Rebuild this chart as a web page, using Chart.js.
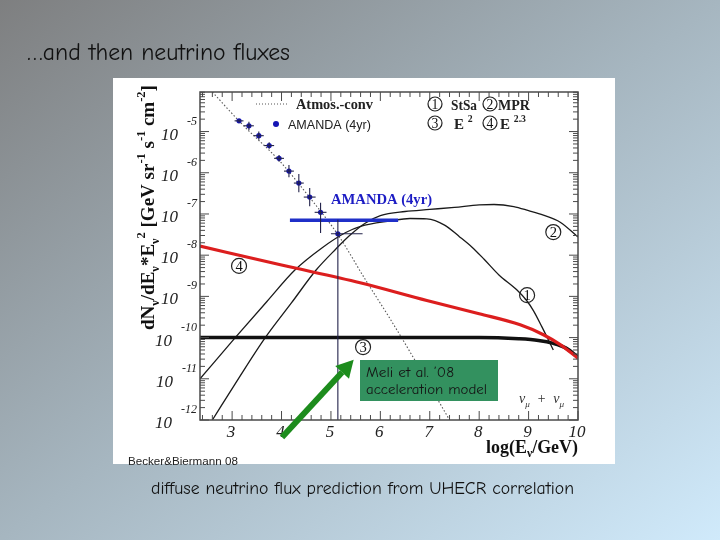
<!DOCTYPE html>
<html>
<head>
<meta charset="utf-8">
<script src="https://cdn.jsdelivr.net/npm/chart.js@4.4.1/dist/chart.umd.min.js"></script>
<style>
  html, body { margin: 0; padding: 0; }
  body {
    width: 720px; height: 540px; overflow: hidden;
    background: linear-gradient(to bottom right, #7e7f80 0%, #a6b6c0 50%, #d0eafb 100%);
  }
  canvas { display: block; }
</style>
</head>
<body>
<canvas id="chart" width="720" height="540"></canvas>
<script>
// axis ticks (log10 units)
const xTicks = [3, 4, 5, 6, 7, 8, 9, 10]
const yTicks = [-12, -11, -10, -9, -8, -7, -6, -5]

// AMANDA unfolded atmospheric spectrum (4yr)
const amandaX = [3.14, 3.34, 3.54, 3.75, 3.95, 4.15, 4.35, 4.57, 4.79, 5.14]
const amandaY = [-4.74, -4.86, -5.10, -5.34, -5.65, -5.96, -6.25, -6.59, -6.96, -7.48]
const amandaYUp = [0.04, 0.1, 0.1, 0.08, 0.08, 0.15, 0.22, 0.22, 0.23, 0.34]
const amandaYDown = [0.04, 0.1, 0.1, 0.08, 0.08, 0.15, 0.22, 0.22, 0.5, 5]
const amandaXLo = [0.09, 0.1, 0.1, 0.1, 0.1, 0.1, 0.1, 0.12, 0.12, 0.14]
const amandaXHi = [0.09, 0.1, 0.1, 0.1, 0.1, 0.1, 0.1, 0.12, 0.12, 0.5]

// AMANDA (4yr) diffuse limit
const limitX = [4.17, 6.36]
const limitY = [-7.15, -7.15]

// conventional atmospheric flux
const atmosX = [2.6, 3.2, 3.95, 4.57, 5.14, 5.7, 6.2, 6.7, 7.4]
const atmosY = [-4.04, -4.82, -5.7, -6.6, -7.5, -8.6, -9.55, -10.55, -12.0]

// (1) StSa
const stsaX = [2.35, 3.05, 3.7, 4.27, 4.81, 5.3, 5.6, 6.2, 6.6, 6.94, 7.3, 7.6, 7.85, 8.1, 8.4, 8.76, 8.96, 9.1, 9.27, 9.5]
const stsaY = [-11.0, -10.02, -9.13, -8.36, -7.83, -7.45, -7.3, -7.17, -7.11, -7.12, -7.27, -7.55, -7.8, -8.1, -8.48, -8.84, -9.1, -9.35, -9.74, -10.3]

// (2) MPR
const mprX = [2.6, 3.1, 3.66, 4.2, 4.7, 5.1, 5.4, 5.7, 6.0, 6.5, 7.0, 7.5, 8.0, 8.3, 8.7, 9.0, 9.3, 9.64, 10.0]
const mprY = [-12.0, -11.05, -10.02, -9.16, -8.36, -7.85, -7.5, -7.22, -7.04, -6.94, -6.89, -6.84, -6.78, -6.77, -6.82, -6.92, -7.03, -7.2, -7.56]

// (3) E^-2
const e2X = [2.35, 8.0, 8.8, 9.2, 9.5, 9.75, 10.0]
const e2Y = [-10.0, -10.0, -10.03, -10.07, -10.14, -10.25, -10.47]

// (4) E^-2.3
const e23X = [2.35, 4.0, 5.59, 6.94, 8.0, 8.83, 9.3, 9.64, 10.0]
const e23Y = [-7.78, -8.24, -8.67, -9.1, -9.42, -9.69, -9.93, -10.17, -10.5]

const SERIF = '"Liberation Serif", "DejaVu Serif", serif'
const SANS = '"Liberation Sans", Arial, sans-serif'
const COMIC = '"Comic Sans MS", "Comic Neue", "DejaVu Sans", sans-serif'
const AXIS = '#4a4a4a'

const pts = (xs, ys) => xs.map((x, i) => ({ x, y: ys[i] }))

function fontOf (f, size) {
  return (f.style || '') + ' ' + (f.weight || '') + ' ' + size.toFixed(2) + 'px ' + f.family
}

function norm (segs) {
  return segs.map(s => typeof s === 'string' ? { t: s } : s)
}

function richWidth (ctx, segs, f) {
  let w = 0
  norm(segs).forEach(s => {
    ctx.font = fontOf(f, s.sub || s.sup ? f.size * 0.65 : f.size)
    w += ctx.measureText(s.t).width
  })
  return w
}

// text with sub/superscripts; f.width resizes the font to a target width,
// f.squeeze keeps the font size and compresses horizontally instead
function drawRich (ctx, x, y, segs, f) {
  if (f.width && !f.squeeze) f = Object.assign({}, f, { size: f.size * f.width / richWidth(ctx, segs, f) })
  const w = richWidth(ctx, segs, f)
  const sx = f.width && f.squeeze ? f.width / w : 1
  ctx.save()
  ctx.translate(x, y)
  ctx.scale(sx, 1)
  let cx = f.align === 'right' ? -w : f.align === 'center' ? -w / 2 : 0
  ctx.fillStyle = f.color || '#000'
  ctx.textAlign = 'left'
  ctx.textBaseline = 'alphabetic'
  norm(segs).forEach(s => {
    const size = s.sub || s.sup ? f.size * 0.65 : f.size
    ctx.font = fontOf(f, size)
    const dy = s.sub ? f.size * 0.25 : s.sup ? -f.size * 0.45 : 0
    ctx.fillText(s.t, cx, dy)
    cx += ctx.measureText(s.t).width
  })
  ctx.restore()
}

function circled (ctx, x, y, r, digit) {
  ctx.beginPath()
  ctx.arc(x, y, r, 0, Math.PI * 2)
  ctx.strokeStyle = '#222'
  ctx.lineWidth = 1.2
  ctx.stroke()
  ctx.fillStyle = '#111'
  ctx.font = (r * 1.95).toFixed(1) + 'px ' + SERIF
  ctx.textAlign = 'center'
  ctx.textBaseline = 'middle'
  ctx.fillText(digit, x, y + 1)
}

function seg (ctx, x0, y0, x1, y1) {
  ctx.beginPath()
  ctx.moveTo(x0, y0)
  ctx.lineTo(x1, y1)
  ctx.stroke()
}

function arrow (ctx, x0, y0, x1, y1, width, head, color) {
  const a = Math.atan2(y1 - y0, x1 - x0)
  const bx = x1 - head * Math.cos(a)
  const by = y1 - head * Math.sin(a)
  const hw = head * 0.55
  ctx.strokeStyle = color
  ctx.fillStyle = color
  ctx.lineWidth = width
  ctx.lineCap = 'butt'
  seg(ctx, x0, y0, bx, by)
  ctx.beginPath()
  ctx.moveTo(x1, y1)
  ctx.lineTo(bx + hw * Math.sin(a), by - hw * Math.cos(a))
  ctx.lineTo(bx - hw * Math.sin(a), by + hw * Math.cos(a))
  ctx.closePath()
  ctx.fill()
}

const panel = {
  id: 'panel',
  beforeDraw (chart) {
    const ctx = chart.ctx
    ctx.save()
    ctx.fillStyle = '#ffffff'
    ctx.fillRect(113, 78, 502, 386)
    ctx.restore()
  }
}

const errorBars = {
  id: 'errorBars',
  afterDatasetsDraw (chart) {
    const { ctx, chartArea: a } = chart
    const xs = chart.scales.x
    const ys = chart.scales.y
    ctx.save()
    ctx.beginPath()
    ctx.rect(a.left, a.top, a.right - a.left, a.bottom - a.top)
    ctx.clip()
    ctx.strokeStyle = '#22224a'
    ctx.lineWidth = 1.1
    amandaX.forEach((x, i) => {
      const y = amandaY[i]
      seg(ctx, xs.getPixelForValue(x - amandaXLo[i]), ys.getPixelForValue(y),
        xs.getPixelForValue(x + amandaXHi[i]), ys.getPixelForValue(y))
      seg(ctx, xs.getPixelForValue(x), ys.getPixelForValue(y + amandaYUp[i]),
        xs.getPixelForValue(x), ys.getPixelForValue(y - amandaYDown[i]))
    })
    ctx.restore()
  }
}

const decor = {
  id: 'decor',
  afterDraw (chart) {
    const { ctx, chartArea: a } = chart
    const xs = chart.scales.x
    const ys = chart.scales.y
    ctx.save()

    // frame and inward ticks on all four sides
    ctx.strokeStyle = AXIS
    ctx.lineWidth = 1.5
    ctx.strokeRect(a.left, a.top, a.right - a.left, a.bottom - a.top)
    ctx.lineWidth = 1
    for (let k = Math.ceil(xs.min * 5); k <= Math.floor(xs.max * 5); k++) {
      const px = xs.getPixelForValue(k / 5)
      const len = k % 5 === 0 ? 9 : 5
      seg(ctx, px, a.bottom, px, a.bottom - len)
      seg(ctx, px, a.top, px, a.top + len)
    }
    for (let d = -12; d <= -5; d++) {
      for (let k = 1; k <= 9; k++) {
        const v = d + Math.log10(k)
        if (v > ys.max) continue
        const py = ys.getPixelForValue(v)
        const len = k === 1 ? 9 : 5
        seg(ctx, a.left, py, a.left + len, py)
        seg(ctx, a.right, py, a.right - len, py)
      }
    }

    // tick labels
    ctx.fillStyle = '#222'
    ctx.textAlign = 'center'
    ctx.textBaseline = 'alphabetic'
    ctx.font = 'italic 17px ' + SERIF
    xTicks.forEach(v => ctx.fillText(String(v), xs.getPixelForValue(v) - 1, a.bottom + 17))
    yTicks.forEach(v => {
      const py = ys.getPixelForValue(v)
      ctx.textAlign = 'right'
      ctx.font = 'italic 12px ' + SERIF
      const sup = String(v)
      ctx.fillText(sup, 197, py - 7)
      const sw = ctx.measureText(sup).width
      ctx.font = 'italic 17px ' + SERIF
      ctx.fillText('10', 197 - sw - 9, py + 8)
    })

    // axis titles
    drawRich(ctx, a.right, 453, ['log(E', { t: 'ν', sub: true }, '/GeV)'],
      { family: SERIF, weight: 'bold', size: 20, width: 92, align: 'right', color: '#111' })
    ctx.save()
    ctx.translate(154, 330)
    ctx.rotate(-Math.PI / 2)
    drawRich(ctx, 0, 0, ['dN', { t: 'ν', sub: true }, '/dE', { t: 'ν', sub: true }, '*E', { t: 'ν', sub: true },
      { t: '2', sup: true }, ' [GeV sr', { t: '-1', sup: true }, ' s', { t: '-1', sup: true },
      ' cm', { t: '-2', sup: true }, ']'],
    { family: SERIF, weight: 'bold', size: 20, width: 245, color: '#111' })
    ctx.restore()

    // in-plot legend
    ctx.strokeStyle = '#555'
    ctx.lineWidth = 1
    ctx.setLineDash([1, 2])
    seg(ctx, 256, 104, 287, 104)
    ctx.setLineDash([])
    drawRich(ctx, 296, 109, ['Atmos.-conv'], { family: SERIF, weight: 'bold', size: 15, width: 77, color: '#222' })
    ctx.fillStyle = '#1414b4'
    ctx.beginPath()
    ctx.arc(276, 124, 3, 0, Math.PI * 2)
    ctx.fill()
    drawRich(ctx, 288, 129, ['AMANDA (4yr)'], { family: SANS, size: 13, width: 83, color: '#222' })

    circled(ctx, 435, 104, 7, '1')
    drawRich(ctx, 451, 110, ['StSa'], { family: SERIF, weight: 'bold', size: 15, width: 26, squeeze: true, color: '#222' })
    circled(ctx, 490, 104, 7, '2')
    drawRich(ctx, 498, 110, ['MPR'], { family: SERIF, weight: 'bold', size: 15, width: 32, squeeze: true, color: '#222' })
    circled(ctx, 435, 123, 7, '3')
    drawRich(ctx, 454, 129, ['E ', { t: '2', sup: true }], { family: SERIF, weight: 'bold', size: 15, color: '#222' })
    circled(ctx, 490, 123, 7, '4')
    drawRich(ctx, 500, 129, ['E ', { t: '2.3', sup: true }], { family: SERIF, weight: 'bold', size: 15, color: '#222' })

    // curve labels
    circled(ctx, xs.getPixelForValue(3.14), ys.getPixelForValue(-8.26), 7.5, '4')
    circled(ctx, xs.getPixelForValue(5.65), ys.getPixelForValue(-10.23), 7.5, '3')
    circled(ctx, xs.getPixelForValue(9.5), ys.getPixelForValue(-7.44), 7.5, '2')
    circled(ctx, xs.getPixelForValue(8.97), ys.getPixelForValue(-8.97), 7.5, '1')
    drawRich(ctx, 331, 204, ['AMANDA (4yr)'], { family: SERIF, weight: 'bold', size: 17, width: 101, color: '#1c1cc4' })
    drawRich(ctx, 519, 403, ['ν', { t: 'μ', sub: true }, '  +  ', 'ν', { t: 'μ', sub: true }],
      { family: SERIF, style: 'italic', size: 14, color: '#333' })

    // Meli et al. annotation box and arrow
    ctx.fillStyle = '#33915f'
    ctx.fillRect(360, 360, 138, 41)
    drawRich(ctx, 366, 377, ['Meli et al. \u201908'], { family: COMIC, size: 14, width: 88, squeeze: true, color: '#151515' })
    drawRich(ctx, 366, 394, ['acceleration model'], { family: COMIC, size: 14, width: 121, squeeze: true, color: '#151515' })
    arrow(ctx, xs.getPixelForValue(4.01), ys.getPixelForValue(-12.42),
      xs.getPixelForValue(5.46), ys.getPixelForValue(-10.54), 6, 17, '#1d8c1d')

    // slide texts
    drawRich(ctx, 27, 60, ['\u2026and then neutrino fluxes'], { family: COMIC, size: 24, width: 263, squeeze: true, color: '#111' })
    drawRich(ctx, 128, 465, ['Becker&Biermann 08'], { family: SANS, size: 11, width: 110, color: '#222' })
    drawRich(ctx, 151, 494, ['diffuse neutrino flux prediction from UHECR correlation'],
      { family: COMIC, size: 19, width: 423, squeeze: true, color: '#111' })
    ctx.restore()
  }
}

const line = (label, xs, ys, color, width, extra) => Object.assign({
  label,
  data: pts(xs, ys),
  showLine: true,
  borderColor: color,
  borderWidth: width,
  pointRadius: 0,
  cubicInterpolationMode: 'monotone',
  fill: false
}, extra || {})

new Chart(document.getElementById('chart'), {
  type: 'scatter',
  data: {
    datasets: [
      { label: 'AMANDA (4yr)', data: pts(amandaX, amandaY), showLine: false, pointRadius: 2.6,
        pointBackgroundColor: '#1414b4', pointBorderWidth: 0, order: 0 },
      line('AMANDA (4yr) limit', limitX, limitY, '#1f2fc8', 3.5, { order: 1, cubicInterpolationMode: 'default' }),
      line('E^2.3', e23X, e23Y, '#dc1e1e', 3.2, { order: 2 }),
      line('E^2', e2X, e2Y, '#111111', 3.5, { order: 3 }),
      line('StSa', stsaX, stsaY, '#1a1a1a', 1.3, { order: 4 }),
      line('MPR', mprX, mprY, '#1a1a1a', 1.3, { order: 5 }),
      line('Atmos.-conv', atmosX, atmosY, '#555555', 1.1, { order: 6, borderDash: [1.5, 2] })
    ]
  },
  options: {
    responsive: false,
    animation: false,
    events: [],
    layout: { autoPadding: false, padding: { left: 0, top: 92, right: 142, bottom: 0 } },
    plugins: { legend: { display: false }, tooltip: { enabled: false } },
    scales: {
      x: {
        type: 'linear', min: 2.35, max: 10,
        ticks: { display: false }, grid: { display: false }, border: { display: false },
        afterFit: s => { s.height = 120 }
      },
      y: {
        type: 'linear', min: -12, max: -4.04,
        ticks: { display: false }, grid: { display: false }, border: { display: false },
        afterFit: s => { s.width = 200 }
      }
    }
  },
  plugins: [panel, errorBars, decor]
})
</script>
</body>
</html>
